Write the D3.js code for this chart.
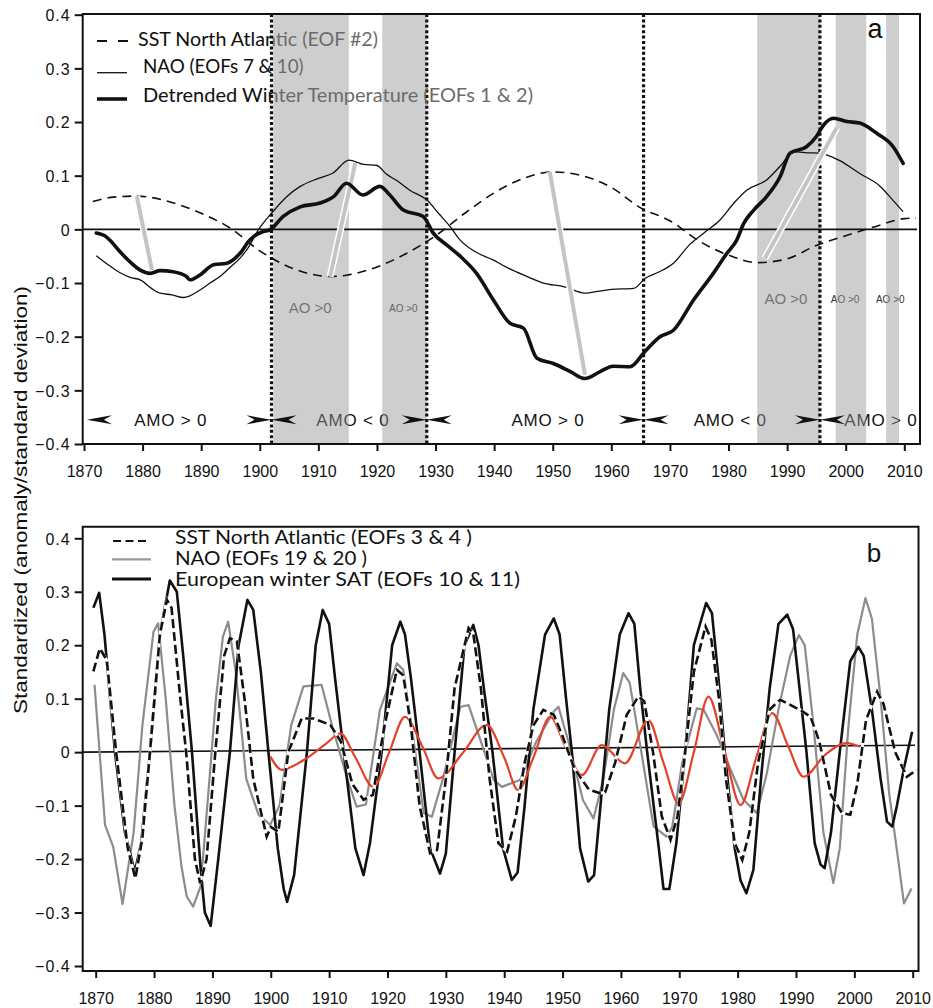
<!DOCTYPE html>
<html><head><meta charset="utf-8">
<script src="https://cdn.jsdelivr.net/npm/d3@7"></script>
<style>body{margin:0;background:#fff}</style>
</head><body>
<svg id="c" width="933" height="1008"></svg>
<script>
// ---------------- DATA ----------------
const yearTicks = [1870,1880,1890,1900,1910,1920,1930,1940,1950,1960,1970,1980,1990,2000,2010];
const valueTicks = [-0.4,-0.3,-0.2,-0.1,0,0.1,0.2,0.3,0.4];
const yAxisTitle = "Standardized (anomaly/standard deviation)";

// Panel a
const aLegend = ["SST North Atlantic (EOF #2)", "NAO (EOFs 7 & 10)", "Detrended Winter Temperature (EOFs 1 & 2)"];
const aSST = [[1871.5,0.052],[1875,0.060],[1879,0.062],[1885,0.050],[1890,0.030],[1895,0.002],[1900,-0.040],[1905,-0.070],[1910,-0.086],[1912,-0.088],[1915,-0.085],[1920,-0.070],[1925,-0.045],[1930,-0.012],[1935,0.030],[1940,0.068],[1945,0.095],[1950,0.107],[1955,0.100],[1960,0.078],[1965,0.040],[1970,0.016],[1975,-0.022],[1980,-0.048],[1985,-0.062],[1990,-0.055],[1995,-0.030],[2000,-0.012],[2005,0.005],[2010,0.020],[2012,0.021]];
const aNAO = [[1872.1,-0.049],[1874,-0.065],[1876,-0.080],[1878,-0.090],[1879.6,-0.094],[1881.5,-0.110],[1883,-0.119],[1885,-0.122],[1887,-0.127],[1889.8,-0.113],[1891.5,-0.100],[1893.2,-0.088],[1895,-0.070],[1896.6,-0.054],[1897.8,-0.038],[1899.8,0.0],[1902,0.030],[1904.5,0.060],[1906.9,0.080],[1910,0.095],[1912.5,0.105],[1915.2,0.129],[1917.7,0.121],[1920,0.119],[1921.6,0.103],[1923.5,0.090],[1925.6,0.073],[1928.5,0.055],[1930.5,0.030],[1932.5,0.005],[1934.2,-0.020],[1936.5,-0.040],[1939.8,-0.057],[1942,-0.070],[1945,-0.085],[1948.4,-0.100],[1952,-0.107],[1955.5,-0.119],[1958,-0.115],[1960,-0.112],[1963.8,-0.110],[1965.8,-0.091],[1968,-0.080],[1970.6,-0.063],[1973.4,-0.028],[1976,-0.005],[1978.5,0.017],[1981,0.050],[1983.1,0.073],[1986.5,0.092],[1989,0.120],[1991.1,0.145],[1993,0.143],[1995.6,0.142],[1996.7,0.139],[1999,0.128],[2002.4,0.104],[2005.9,0.080],[2008,0.055],[2009.8,0.033]];
const aTemp = [[1872.1,-0.007],[1873.8,-0.014],[1874.4,-0.020],[1876,-0.040],[1878,-0.062],[1879.6,-0.076],[1881.3,-0.082],[1883,-0.077],[1885.2,-0.079],[1887.5,-0.088],[1888.1,-0.094],[1889.8,-0.085],[1892.1,-0.066],[1894.4,-0.063],[1896.6,-0.045],[1898.3,-0.020],[1898.9,-0.014],[1900.6,-0.004],[1901.7,-0.001],[1904,0.024],[1906.9,0.042],[1910.3,0.049],[1912.6,0.061],[1914.8,0.086],[1917.6,0.064],[1920.5,0.080],[1922.2,0.064],[1924.5,0.036],[1927.9,0.024],[1929.6,-0.007],[1932,-0.030],[1934.2,-0.050],[1937,-0.082],[1939.9,-0.132],[1942.7,-0.175],[1945,-0.184],[1947.3,-0.240],[1950.1,-0.250],[1953,-0.265],[1955.5,-0.278],[1958.1,-0.265],[1960.3,-0.255],[1963.2,-0.256],[1965.7,-0.228],[1968.3,-0.200],[1970.6,-0.188],[1974,-0.132],[1977.4,-0.082],[1979.7,-0.045],[1981.4,-0.020],[1982.6,0.011],[1984.3,0.036],[1986.5,0.061],[1988.8,0.098],[1990.5,0.142],[1993.3,0.154],[1995,0.173],[1996.2,0.194],[1997.9,0.207],[2000.2,0.201],[2002.4,0.198],[2005.3,0.179],[2008.1,0.154],[2009.8,0.123]];
const aoBands = [[1902.3,1915.2],[1920.9,1928.5],[1984.9,1995.6],[1998.3,2003.5],[2006.9,2009.1]];
const amoShifts = [1902,1928.5,1965.5,1995.6];
const amoStart = 1870.5;
const amoLevel = -0.355;
const amoLabels = [["AMO > 0",1884.8],["AMO < 0",1915.9],["AMO > 0",1949.2],["AMO < 0",1980.3],["AMO > 0",2006.0]];
const aoLabels = [["AO >0",1908.6,-0.147,"big"],["AO >0",1924.5,-0.147,"small"],["AO >0",1989.8,-0.130,"big"],["AO >0",1999.9,-0.130,"small"],["AO >0",2007.6,-0.130,"small"]];
const slantLinks = [[1879,0.062,1881.6,-0.076],[1916.3,0.124,1912,-0.088],[1949.5,0.107,1955.5,-0.271],[1998.5,0.190,1986.2,-0.054]];

// Panel b
const bLegend = ["SST North Atlantic (EOFs 3 & 4 )", "NAO (EOFs 19 & 20 )", "European winter SAT (EOFs 10 & 11)"];
const bSAT = [[1869.6,0.27],[1870.6,0.298],[1871.5,0.22],[1873.3,0.0],[1875,-0.15],[1876.7,-0.224],[1877.8,-0.17],[1879.3,0.0],[1881,0.22],[1882.7,0.321],[1883.9,0.30],[1885,0.18],[1886.5,0.0],[1888,-0.22],[1888.7,-0.30],[1889.7,-0.325],[1891,-0.2],[1893,0.0],[1894.5,0.2],[1896,0.285],[1897,0.266],[1898.3,0.15],[1899.6,0.0],[1901.2,-0.18],[1902.2,-0.255],[1902.8,-0.28],[1904,-0.23],[1906.2,0.0],[1907.7,0.2],[1908.9,0.266],[1910,0.24],[1911,0.14],[1912.5,0.0],[1914.5,-0.18],[1915.9,-0.23],[1917,-0.17],[1919,0.0],[1920.8,0.2],[1922.2,0.244],[1923,0.22],[1924,0.14],[1925.5,0.0],[1927.3,-0.18],[1929,-0.227],[1930,-0.19],[1931.5,0.0],[1933.2,0.2],[1934.7,0.238],[1935.6,0.2],[1936.5,0.12],[1938,0.0],[1939.8,-0.18],[1941.3,-0.239],[1942.3,-0.225],[1943.5,-0.1],[1945,0.08],[1947,0.22],[1948.5,0.25],[1949.5,0.22],[1950.6,0.1],[1951.6,0.0],[1953,-0.18],[1954.4,-0.242],[1955.4,-0.23],[1956.5,-0.1],[1958,0.08],[1959.8,0.22],[1961.3,0.26],[1962.3,0.24],[1963.3,0.12],[1964.5,0.0],[1966.5,-0.18],[1967.3,-0.256],[1968.3,-0.256],[1969.5,-0.17],[1971,0.0],[1972.5,0.2],[1974.6,0.279],[1975.6,0.26],[1976.7,0.14],[1977.8,0.0],[1979.5,-0.18],[1980.5,-0.24],[1981.5,-0.264],[1982.7,-0.22],[1984,-0.05],[1985.5,0.12],[1987,0.24],[1988.5,0.257],[1989.5,0.23],[1990.6,0.12],[1991.8,0.0],[1993.2,-0.17],[1994.2,-0.21],[1994.9,-0.217],[1996,-0.15],[1997.5,0.0],[1999.3,0.17],[2000.7,0.197],[2001.6,0.18],[2003,0.08],[2004.5,-0.05],[2005.6,-0.13],[2006.5,-0.139],[2007.3,-0.1],[2008.5,-0.03],[2009.9,0.038]];
const bSST = [[1869.6,0.151],[1870.7,0.194],[1871.9,0.172],[1873.5,0.0],[1875.5,-0.18],[1876.8,-0.236],[1878,-0.16],[1879.3,0.0],[1881,0.22],[1882.2,0.285],[1883,0.27],[1884.5,0.1],[1885.5,0.0],[1887,-0.2],[1887.9,-0.245],[1889,-0.2],[1890.5,0.0],[1892,0.18],[1893,0.213],[1894.2,0.207],[1895.5,0.1],[1897,-0.05],[1899.3,-0.158],[1900,-0.14],[1901.3,-0.149],[1903,0.0],[1905.3,0.063],[1907.3,0.063],[1910.2,0.051],[1912,0.02],[1914,-0.06],[1915.9,-0.089],[1917.5,-0.08],[1919.5,0.05],[1921.6,0.154],[1922.7,0.144],[1924,0.05],[1925.5,-0.1],[1927.3,-0.189],[1928.5,-0.183],[1930,-0.05],[1931.5,0.12],[1933.9,0.232],[1934.7,0.222],[1936,0.12],[1937.5,-0.05],[1939,-0.17],[1940.5,-0.186],[1942,-0.12],[1943.5,-0.02],[1945,0.05],[1946.7,0.079],[1948.5,0.07],[1950,0.03],[1952,-0.03],[1954.5,-0.07],[1956.5,-0.077],[1957.3,-0.075],[1959,-0.02],[1961,0.07],[1963,0.104],[1964,0.095],[1965.5,0.0],[1967,-0.12],[1968.5,-0.164],[1969.7,-0.12],[1971,0.0],[1972.5,0.15],[1974.5,0.235],[1975.5,0.21],[1976.8,0.1],[1978,-0.05],[1979.5,-0.17],[1980.8,-0.202],[1982,-0.15],[1983.5,-0.02],[1985.5,0.08],[1987.3,0.098],[1990.7,0.079],[1992.5,0.066],[1994,0.02],[1996,-0.08],[1997.9,-0.114],[1999.3,-0.117],[2000.5,-0.06],[2002,0.06],[2003.9,0.113],[2005,0.09],[2007,0.0],[2009,-0.046],[2010.7,-0.033]];
const bNAO = [[1869.8,0.126],[1871.6,-0.136],[1873,-0.177],[1874.6,-0.284],[1876.5,-0.15],[1878,0.05],[1879.9,0.225],[1880.7,0.241],[1882,0.1],[1883.5,-0.1],[1884.7,-0.214],[1885.6,-0.27],[1886.7,-0.289],[1888,-0.25],[1889.5,-0.05],[1890.6,0.1],[1891.8,0.216],[1892.7,0.244],[1894,0.15],[1895.8,-0.05],[1897.9,-0.117],[1899.9,-0.136],[1901.5,-0.1],[1903.5,0.05],[1905.6,0.123],[1908.7,0.126],[1910.5,0.05],[1913,-0.046],[1914.7,-0.102],[1916.3,-0.098],[1918.7,0.079],[1921.6,0.166],[1922.7,0.154],[1924.5,0.02],[1926.2,-0.114],[1927.6,-0.121],[1929.5,-0.05],[1932.5,0.085],[1933.9,0.088],[1936,0.02],[1938.2,-0.052],[1939.6,-0.065],[1942.7,-0.052],[1945.5,0.02],[1948.5,0.076],[1949.3,0.085],[1951,0.02],[1953.5,-0.09],[1955.3,-0.124],[1957,-0.05],[1958.8,0.08],[1960.4,0.148],[1961.5,0.13],[1963.5,0.0],[1965.6,-0.139],[1967.8,-0.158],[1968.8,-0.14],[1970.5,-0.02],[1973,0.082],[1974.2,0.079],[1976.5,0.03],[1978.8,-0.033],[1981,-0.089],[1983.3,-0.114],[1985,-0.04],[1987,0.08],[1989,0.18],[1990.5,0.219],[1991.5,0.2],[1993,0.05],[1994.7,-0.15],[1996.4,-0.245],[1997.5,-0.18],[1999,0.05],[2000.5,0.22],[2001.9,0.288],[2003,0.25],[2004.5,0.1],[2006,-0.08],[2007.5,-0.2],[2008.5,-0.283],[2009.8,-0.255]];
const bRed = [[1899.9,-0.008],[1901.9,-0.033],[1904,-0.025],[1906.2,-0.011],[1909.6,0.017],[1911.9,0.035],[1914.5,-0.01],[1917.6,-0.065],[1920.3,0.0],[1923,0.066],[1926,0.01],[1928.7,-0.049],[1933,0.0],[1937,0.051],[1940,-0.01],[1942.4,-0.071],[1945,-0.01],[1947.9,0.066],[1950.5,0.01],[1953.3,-0.043],[1956.7,0.013],[1960.7,-0.021],[1964.7,0.06],[1967.3,-0.02],[1969.9,-0.096],[1972.5,0.0],[1975,0.104],[1977.8,0.0],[1980.5,-0.099],[1983.2,-0.01],[1985.9,0.073],[1988.7,0.01],[1991.3,-0.046],[1995,-0.005],[1998.7,0.017],[2001,0.01]];
const bTrend = [[1867.8,0.0],[2010.4,0.013]];

// ---------------- DRAW ----------------
const svg = d3.select("#c");
const TF = "'Liberation Sans', Arial, sans-serif";
const LF = "Lato, 'Open Sans', sans-serif";
const tickFmt = d => d === 0 ? "0" : d3.format(".1f")(d);

const defs = svg.append("defs");
const grad = defs.append("linearGradient").attr("id","legfade").attr("gradientUnits","userSpaceOnUse")
  .attr("x1",0).attr("x2",933).attr("y1",0).attr("y2",0);
grad.append("stop").attr("offset", 273/933).attr("stop-color","#111");
grad.append("stop").attr("offset", 273/933).attr("stop-color","#6a6a6a");

function fit(sel, w){ sel.attr("textLength", w).attr("lengthAdjust","spacingAndGlyphs"); }

function frame(g, F){
  g.append("path").attr("d",`M${F.left},${F.top}H${F.right}V${F.bottom}H${F.left}Z`)
    .attr("fill","none").attr("stroke","#111").attr("stroke-width",2);
}
function axes(g, x, y, F){
  const ax = g.append("g").attr("transform",`translate(0,${F.bottom})`)
    .call(d3.axisBottom(x).tickValues(yearTicks).tickSize(7).tickPadding(15).tickFormat(d3.format("d")));
  ax.select(".domain").remove();
  const ay = g.append("g").attr("transform",`translate(${F.left},0)`)
    .call(d3.axisLeft(y).tickValues(valueTicks).tickSize(8).tickPadding(4).tickFormat(tickFmt));
  ay.select(".domain").remove();
  [ax, ay].forEach(a => {
    a.selectAll("line").attr("stroke","#111").attr("stroke-width",2);
    a.selectAll("text").attr("font-family",TF).attr("font-size",16).attr("fill","#111");
  });
  ay.selectAll("text").attr("letter-spacing",1).attr("dy","0.36em");
}

// ===== Panel a =====
const A = {left:82.7, right:920, top:14, bottom:444};
const xa = d3.scaleLinear().domain([1870,2010]).range([84,904.3]);
const ya = d3.scaleLinear().domain([-0.4,0.4]).range([444,14.7]);
const ga = svg.append("g");

// texts that sit under the translucent AO bands
ga.selectAll("text.amo").data(amoLabels).join("text").attr("class","amo")
  .attr("x", d => xa(d[1])).attr("y", ya(amoLevel) + 6.5)
  .attr("text-anchor","middle").attr("font-family",TF).attr("font-size",17).attr("letter-spacing",0.8)
  .attr("fill","#111").text(d => d[0]);
ga.selectAll("text.ao").data(aoLabels).join("text").attr("class","ao")
  .attr("x", d => xa(d[1])).attr("y", d => ya(d[2]) + (d[3]==="big"?5:3.5))
  .attr("text-anchor","middle").attr("font-family",TF)
  .attr("font-size", d => d[3]==="big"?15:10)
  .attr("fill", d => d[3]==="big" ? "#555" : "#333").text(d => d[0]);

ga.selectAll("rect.band").data(aoBands).join("rect").attr("class","band")
  .attr("x", d => xa(d[0])).attr("width", d => xa(d[1]) - xa(d[0]))
  .attr("y", A.top).attr("height", A.bottom - A.top)
  .attr("fill","rgb(150,150,150)").attr("fill-opacity",0.47);

// zero line
ga.append("line").attr("x1",A.left).attr("x2",917).attr("y1",ya(0)).attr("y2",ya(0))
  .attr("stroke","#111").attr("stroke-width",1.6);

// dotted regime shift lines
ga.selectAll("line.shift").data(amoShifts).join("line").attr("class","shift")
  .attr("x1", d => xa(d)).attr("x2", d => xa(d)).attr("y1", A.top).attr("y2", A.bottom)
  .attr("stroke","#111").attr("stroke-width",3.2).attr("stroke-dasharray","3,2.4");

const la = d3.line().x(d => xa(d[0])).y(d => ya(d[1])).curve(d3.curveMonotoneX);
ga.append("path").attr("d", la(aSST)).attr("fill","none").attr("stroke","#111")
  .attr("stroke-width",1.6).attr("stroke-dasharray","9,6");
ga.append("path").attr("d", la(aNAO)).attr("fill","none").attr("stroke","#111")
  .attr("stroke-width",1.3);

// slanted lag links
const sl = ga.selectAll("g.slant").data(slantLinks).join("g").attr("class","slant");
sl.append("line").attr("x1", d => xa(d[0])).attr("y1", d => ya(d[1])).attr("x2", d => xa(d[2])).attr("y2", d => ya(d[3]))
  .attr("stroke","#fff").attr("stroke-width",7);
sl.append("line").attr("x1", d => xa(d[0])).attr("y1", d => ya(d[1])).attr("x2", d => xa(d[2])).attr("y2", d => ya(d[3]))
  .attr("stroke","#c4c4c4").attr("stroke-width",4);

ga.append("path").attr("d", la(aTemp)).attr("fill","none").attr("stroke","#111")
  .attr("stroke-width",3.6).attr("stroke-linejoin","round").attr("stroke-linecap","round");

// AMO arrows
const arrows = [{year:amoStart, dir:-1}];
amoShifts.forEach(s => { arrows.push({year:s, dir:1}); arrows.push({year:s, dir:-1}); });
ga.selectAll("path.arr").data(arrows).join("path").attr("class","arr")
  .attr("d", d => {
    const t = xa(d.year), y = ya(amoLevel), k = d.dir;
    return `M${t},${y}L${t-k*25},${y-4.5}L${t-k*17},${y}L${t-k*25},${y+4.5}Z`;
  }).attr("fill","#111");

frame(ga, A);
axes(ga, xa, ya, A);

// legend a
const legA = ga.append("g");
const legAy = [46, 72.7, 101.7];
const legAw = [240, 160.6, 390];
const legAx = [138, 143, 143];
legA.append("line").attr("x1",97).attr("x2",130).attr("y1",41).attr("y2",41)
  .attr("stroke","#111").attr("stroke-width",2).attr("stroke-dasharray","10,11");
legA.append("line").attr("x1",97).attr("x2",127).attr("y1",72.7).attr("y2",72.7)
  .attr("stroke","#111").attr("stroke-width",1.3);
legA.append("line").attr("x1",97).attr("x2",127).attr("y1",99).attr("y2",99)
  .attr("stroke","#111").attr("stroke-width",3.6);
aLegend.forEach((t,i) => {
  legA.append("text").attr("x",legAx[i]).attr("y",legAy[i]).attr("font-family",LF).attr("font-size",19)
    .attr("fill","url(#legfade)").text(t).call(fit, legAw[i]);
});
ga.append("text").attr("x",875).attr("y",38.3).attr("text-anchor","middle").attr("font-family",TF)
  .attr("font-size",27).attr("fill","#111").text("a");

// ===== Panel b =====
const B = {left:82.7, right:918.5, top:526.7, bottom:971};
const xb = d3.scaleLinear().domain([1870,2010]).range([95.7,912.7]);
const yb = d3.scaleLinear().domain([-0.4,0.4]).range([966,538.3]);
const gb = svg.append("g");
const lb = d3.line().x(d => xb(d[0])).y(d => yb(d[1]));

gb.append("path").attr("d", lb(bTrend)).attr("fill","none").attr("stroke","#111").attr("stroke-width",1.6);
gb.append("path").attr("d", lb(bNAO)).attr("fill","none").attr("stroke","#8c8c8c").attr("stroke-width",2.2).attr("stroke-linejoin","round");
gb.append("path").attr("d", lb(bSAT)).attr("fill","none").attr("stroke","#111").attr("stroke-width",2.6).attr("stroke-linejoin","round");
gb.append("path").attr("d", lb.curve(d3.curveMonotoneX)(bRed)).attr("fill","none").attr("stroke","#e3412b").attr("stroke-width",2.2);
lb.curve(d3.curveLinear);
gb.append("path").attr("d", lb(bSST)).attr("fill","none").attr("stroke","#fff").attr("stroke-width",3);
gb.append("path").attr("d", lb(bSST)).attr("fill","none").attr("stroke","#111").attr("stroke-width",2.6).attr("stroke-dasharray","9,4");

frame(gb, B);
axes(gb, xb, yb, B);

const legB = gb.append("g");
legB.append("line").attr("x1",113).attr("x2",149).attr("y1",541).attr("y2",541)
  .attr("stroke","#111").attr("stroke-width",2.2).attr("stroke-dasharray","8,4.5");
legB.append("line").attr("x1",112).attr("x2",151).attr("y1",559.3).attr("y2",559.3)
  .attr("stroke","#999").attr("stroke-width",2.2);
legB.append("line").attr("x1",112).attr("x2",151).attr("y1",579).attr("y2",579)
  .attr("stroke","#111").attr("stroke-width",2.8);
const legBy = [544.3, 565, 586];
const legBw = [297, 192, 345];
bLegend.forEach((t,i) => {
  legB.append("text").attr("x",175).attr("y",legBy[i]).attr("font-family",LF).attr("font-size",19)
    .attr("fill","#111").text(t).call(fit, legBw[i]);
});
gb.append("text").attr("x",874).attr("y",561.7).attr("text-anchor","middle").attr("font-family",TF)
  .attr("font-size",26).attr("fill","#111").text("b");

// shared y title
svg.append("text").attr("transform","translate(27,500) rotate(-90)").attr("text-anchor","middle")
  .attr("font-family",TF).attr("font-size",19).attr("fill","#111").text(yAxisTitle).call(fit, 428);
</script></body></html>
